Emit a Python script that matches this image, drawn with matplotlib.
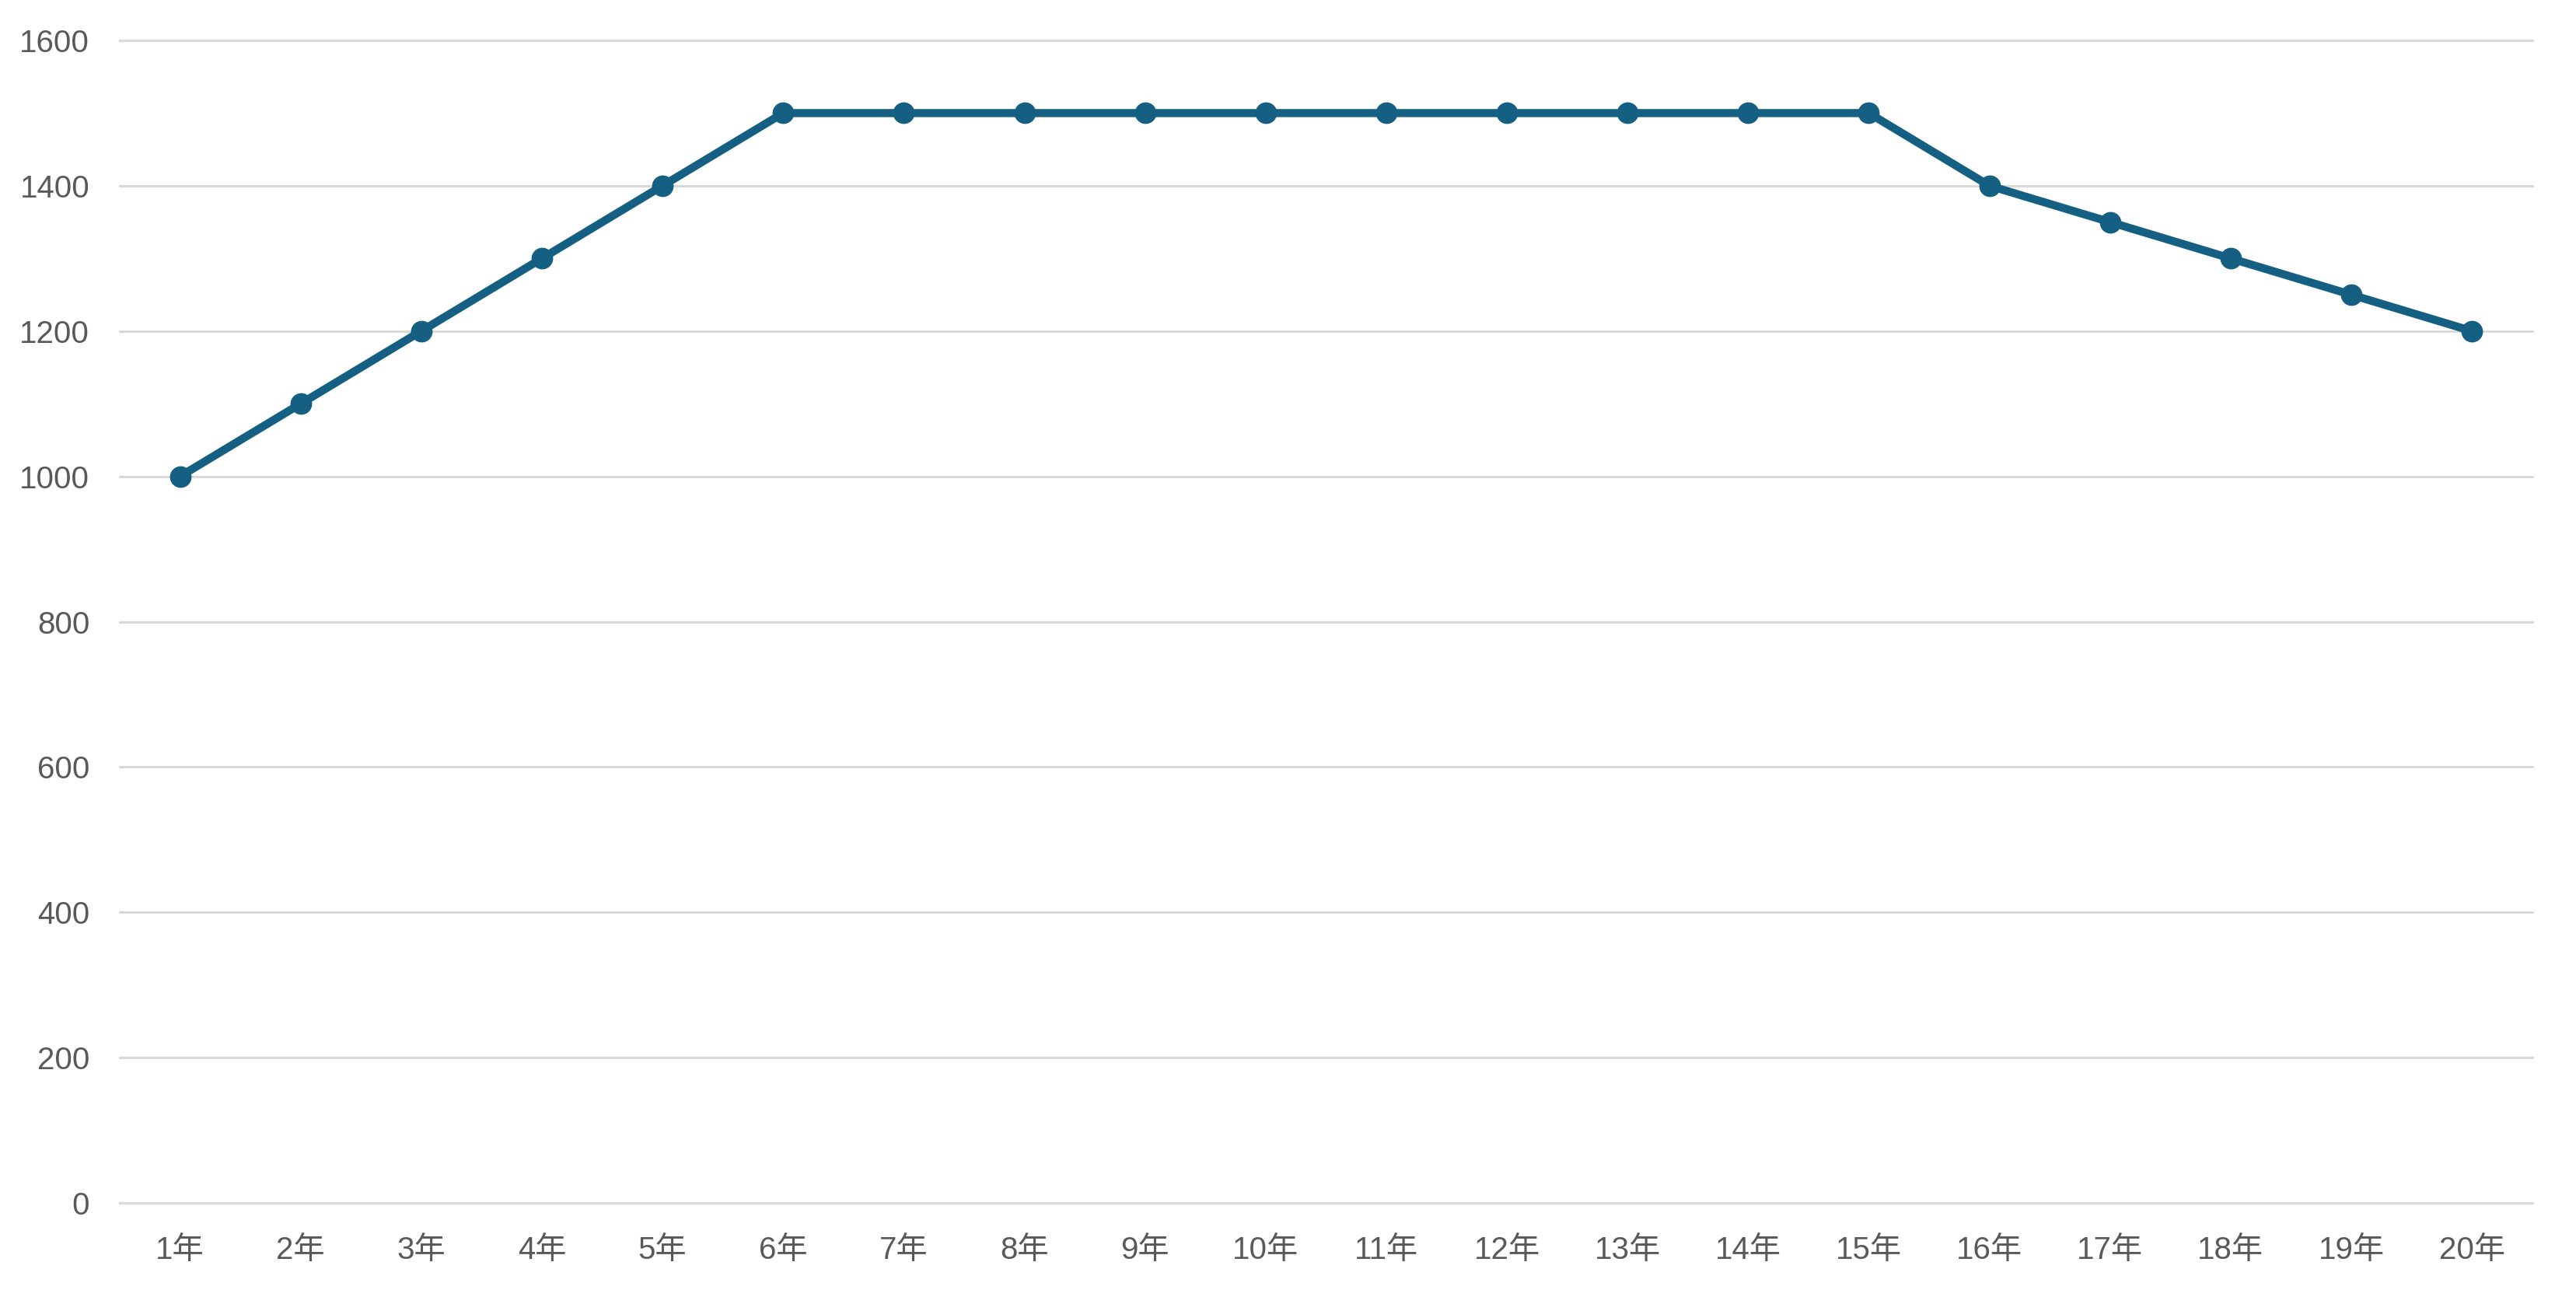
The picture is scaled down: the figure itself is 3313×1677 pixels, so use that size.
import matplotlib.pyplot as plt

years = [f"{i}年" for i in range(1, 21)]
values = [1000, 1100, 1200, 1300, 1400, 1500, 1500, 1500, 1500, 1500,
          1500, 1500, 1500, 1500, 1500, 1400, 1350, 1300, 1250, 1200]
yticks = [0, 200, 400, 600, 800, 1000, 1200, 1400, 1600]

plt.rcParams['font.family'] = ['Liberation Sans', 'Noto Sans CJK JP', 'DejaVu Sans']

fig = plt.figure(figsize=(33.13, 16.77), dpi=100)
ax = fig.add_axes([0.0465, 0.0775, 0.9365, 0.8915])

x = list(range(len(years)))
ax.plot(x, values, color='#156082', linewidth=7.5, marker='o', markersize=19,
        solid_capstyle='round', zorder=3)

ax.set_xlim(-0.5, len(years) - 0.5)
ax.set_ylim(0, 1600)
ax.set_yticks(yticks)
ax.set_xticks(x)
ax.set_xticklabels(years)

ax.grid(axis='y', color='#d9d9d9', linewidth=2.2)
for gl in ax.get_ygridlines():
    gl.set_clip_on(False)
ax.set_axisbelow(True)
for s in ax.spines.values():
    s.set_visible(False)
ax.tick_params(axis='both', length=0, labelsize=29, labelcolor='#595959')
ax.tick_params(axis='y', pad=28)
ax.tick_params(axis='x', pad=30)

fig.savefig('out.png', dpi=100)
